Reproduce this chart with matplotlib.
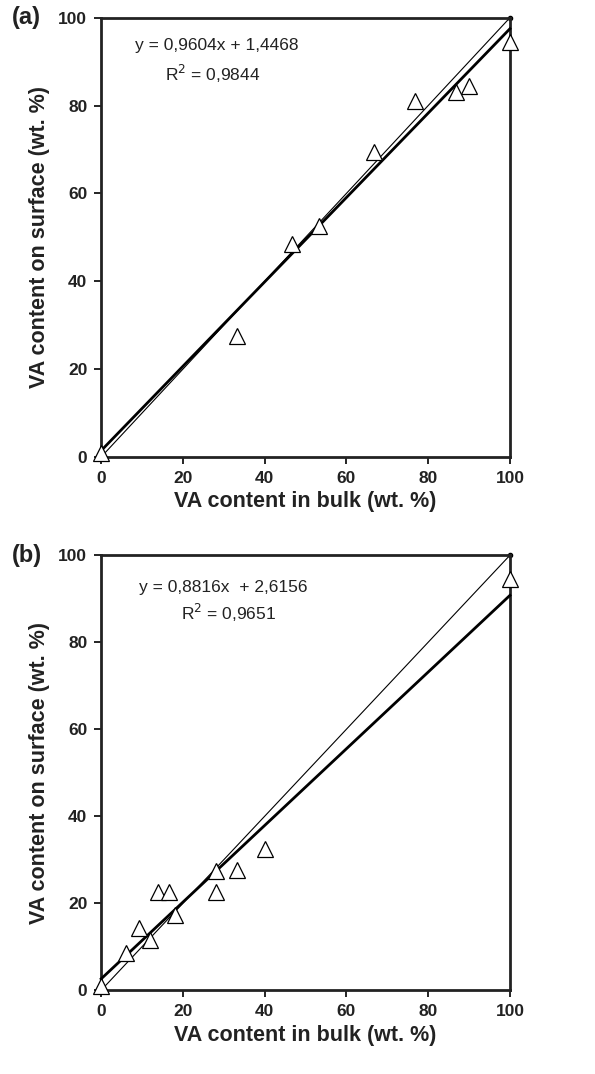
import matplotlib
matplotlib.use("Agg")
import matplotlib.pyplot as plt
import numpy as np

plt.rcParams['font.family'] = ['Liberation Sans', 'DejaVu Sans']

# Panel (a) data
a_bulk = [0, 33.3, 46.7, 53.3, 66.7, 76.7, 86.7, 90.0, 100]
a_surface = [1.0, 27.5, 48.5, 52.5, 69.5, 81.0, 83.0, 84.5, 94.5]
a_slope, a_intercept = 0.9604, 1.4468
a_eq = "y = 0,9604x + 1,4468"
a_r2 = "R$^2$ = 0,9844"

# Panel (b) data
b_bulk = [0, 6.2, 9.2, 12.0, 14.0, 16.5, 18.0, 28.0, 28.0, 33.3, 40.2, 100]
b_surface = [1.0, 8.6, 14.3, 11.5, 22.6, 22.6, 17.3, 27.4, 22.6, 27.7, 32.5, 94.5]
b_slope, b_intercept = 0.8816, 2.6156
b_eq = "y = 0,8816x  + 2,6156"
b_r2 = "R$^2$ = 0,9651"

ticks = [0, 20, 40, 60, 80, 100]
xlabel = "VA content in bulk (wt. %)"
ylabel = "VA content on surface (wt. %)"

fig = plt.figure(figsize=(5.95, 10.74), dpi=100)
ax_a = fig.add_axes([0.170, 0.5745, 0.687, 0.409])
ax_b = fig.add_axes([0.170, 0.078, 0.687, 0.405])

def draw(ax, bulk, surf, slope, intercept, eq, r2, eqpos, r2pos, tag):
    xs = np.array([0, 100])
    ax.plot(xs, xs, color='black', lw=0.8, marker='o', ms=3, clip_on=False, zorder=2)
    ax.plot(xs, slope * xs + intercept, color='black', lw=2.0, clip_on=False, zorder=3)
    ax.plot(bulk, surf, linestyle='none', marker='^', ms=12, mfc='white',
            mec='black', mew=0.9, clip_on=False, zorder=4)
    ax.set_xlim(0, 100)
    ax.set_ylim(0, 100)
    ax.set_xticks(ticks)
    ax.set_yticks(ticks)
    ax.tick_params(direction='out', length=5, width=1.2, labelsize=12.5, pad=5)
    for lab in ax.get_xticklabels() + ax.get_yticklabels():
        lab.set_fontweight('bold')
        lab.set_color('#222222')
    for sp in ax.spines.values():
        sp.set_linewidth(2)
        sp.set_color('#222222')
    ax.set_xlabel(xlabel, fontsize=15.5, fontweight='bold', labelpad=4, color='#222222')
    ax.set_ylabel(ylabel, fontsize=15.5, fontweight='bold', labelpad=6, color='#222222')
    ax.text(eqpos[0], eqpos[1], eq, fontsize=12.5, va='center', ha='left', color='#222222')
    ax.text(r2pos[0], r2pos[1], r2, fontsize=12.5, va='center', ha='left', color='#222222')
    ax.text(-0.218, 1.0, tag, transform=ax.transAxes, fontsize=17,
            fontweight='bold', va='center', ha='left', color='#222222')

draw(ax_a, a_bulk, a_surface, a_slope, a_intercept, a_eq, a_r2,
     (8.3, 93.6), (15.6, 87.3), "(a)")
draw(ax_b, b_bulk, b_surface, b_slope, b_intercept, b_eq, b_r2,
     (9.3, 92.6), (19.6, 86.7), "(b)")

fig.savefig("out.png", dpi=100)
